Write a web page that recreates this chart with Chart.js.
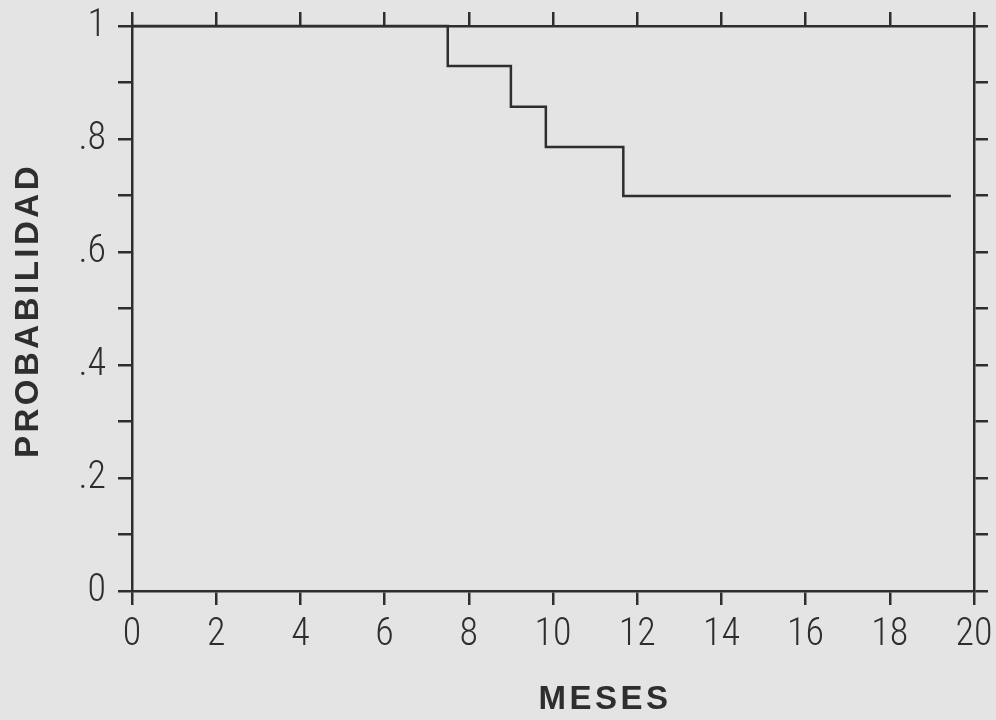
<!DOCTYPE html>
<html><head><meta charset="utf-8">
<script src="https://cdn.jsdelivr.net/npm/chart.js@4.4.1/dist/chart.umd.min.js"></script>
<style>html,body{margin:0;padding:0;background:#e4e4e4;}#wrap{width:996px;height:720px;}</style>
</head><body><div id="wrap"><canvas id="c" width="996" height="720"></canvas></div>
<script>
const months = [0, 7.5, 9, 9.83, 11.67, 19.45];
const survival = [1, 0.929, 0.857, 0.786, 0.699, 0.699];
const xTitle = 'MESES';
const yTitle = 'PROBABILIDAD';

const INK = '#2e2e2e';
const BG = '#e4e4e4';
const tickFont = {family: 'Roboto, "Liberation Sans", Arial, sans-serif', size: 38, weight: 'condensed 300'};
const titleFont = 'bold 33px "Liberation Sans", Arial, sans-serif';

function yLabel(v) {
  const r = Math.round(v * 10);
  if (r % 2 !== 0) return '';
  if (r === 0) return '0';
  if (r === 10) return '1';
  return '.' + r;
}
const gridOpts = {drawOnChartArea: false, drawTicks: true, tickLength: 14, color: INK, lineWidth: 2.5, tickWidth: 2.5};
const borderOpts = {display: true, color: INK, width: 2.5};

function noPad(s) { s.paddingTop = 0; s.paddingBottom = 0; s.paddingLeft = 0; s.paddingRight = 0; }

const bgPlugin = {id: 'bg', beforeDraw(chart) {
  const ctx = chart.ctx; ctx.save(); ctx.fillStyle = BG; ctx.fillRect(0, 0, chart.width, chart.height); ctx.restore();
}};

// axis titles, drawn as real text with the letter spacing of the original
const titlePlugin = {id: 'axisTitles', afterDraw(chart) {
  const ctx = chart.ctx;
  ctx.save();
  ctx.fillStyle = INK;
  ctx.font = titleFont;
  ctx.letterSpacing = '3.5px';
  ctx.textAlign = 'center';
  ctx.textBaseline = 'middle';
  ctx.fillText(xTitle, 605, 700);
  ctx.translate(29, chart.chartArea.top + (chart.chartArea.bottom - chart.chartArea.top) / 2 + 2);
  ctx.rotate(-Math.PI / 2);
  ctx.fillText(yTitle, 0, 0);
  ctx.restore();
}};

new Chart(document.getElementById('c'), {
  type: 'line',
  data: {datasets: [{
    data: months.map((m, i) => ({x: m, y: survival[i]})),
    stepped: true, borderColor: INK, borderWidth: 2.5, pointRadius: 0, fill: false, clip: false
  }]},
  options: {
    responsive: false, animation: false, events: [],
    layout: {padding: 0},
    plugins: {legend: {display: false}, tooltip: {enabled: false}},
    scales: {
      x: {type: 'linear', position: 'bottom', min: 0, max: 20,
        ticks: {stepSize: 2, color: INK, font: tickFont, padding: 8, maxRotation: 0, autoSkip: false},
        grid: gridOpts, border: borderOpts,
        afterFit(s) { s.height = 129; noPad(s); }
      },
      x2: {type: 'linear', position: 'top', min: 0, max: 20,
        ticks: {stepSize: 2, display: false},
        grid: gridOpts, border: borderOpts,
        afterFit(s) { s.height = 26; noPad(s); }
      },
      y: {type: 'linear', position: 'left', min: 0, max: 1,
        ticks: {stepSize: 0.1, color: INK, font: tickFont, padding: 12, callback: yLabel, autoSkip: false},
        grid: gridOpts, border: borderOpts,
        afterFit(s) { s.width = 132; noPad(s); }
      },
      y2: {type: 'linear', position: 'right', min: 0, max: 1,
        ticks: {stepSize: 0.1, display: false},
        grid: gridOpts, border: borderOpts,
        afterFit(s) { s.width = 22; noPad(s); }
      }
    }
  },
  plugins: [bgPlugin, titlePlugin]
});
</script></body></html>
